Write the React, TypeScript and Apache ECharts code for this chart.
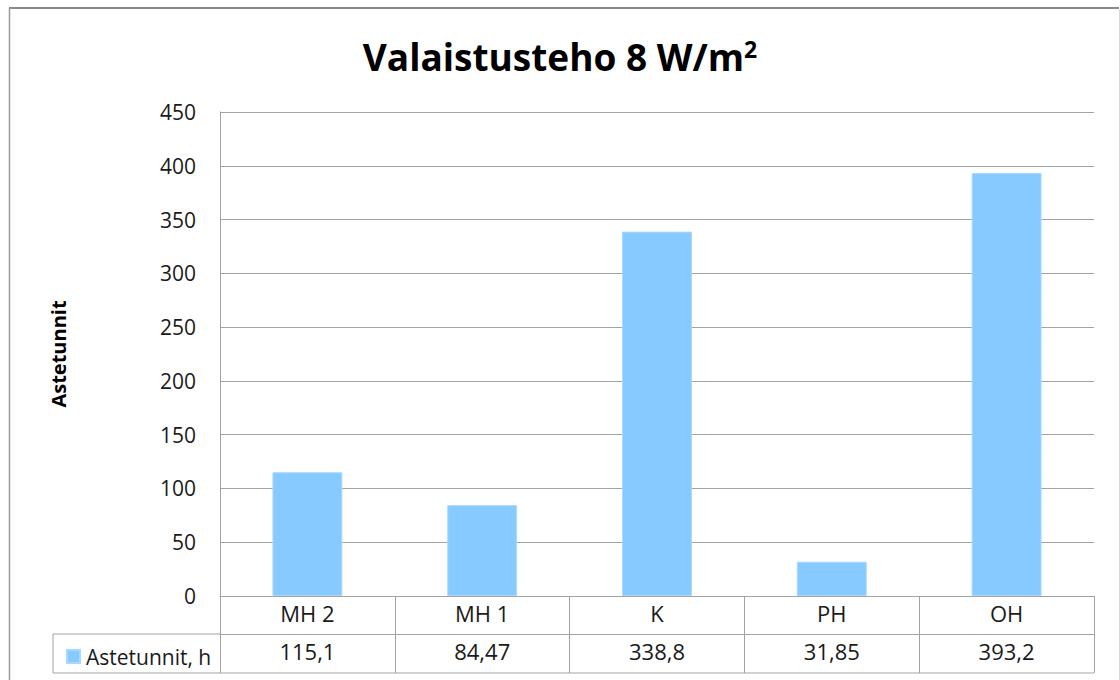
import React, { useEffect, useRef } from "react";
import * as echarts from "echarts";

const categories = ["MH 2", "MH 1", "K", "PH", "OH"];
const seriesName = "Astetunnit, h";
const values = [115.1, 84.47, 338.8, 31.85, 393.2];
const yTicks = [0, 50, 100, 150, 200, 250, 300, 350, 400, 450];

const fmt = (v: number) => String(v).replace(".", ",");
const FONT = "'Open Sans', 'Noto Sans', sans-serif";
const LINE = "#a3a3a3";
const BAR = "#87CAFF";

export default function App() {
  const ref = useRef<HTMLDivElement>(null);
  useEffect(() => {
    if (!ref.current) return;
    const chart = echarts.init(ref.current, undefined, { renderer: "svg" });
    chart.setOption({
      animation: false,
      backgroundColor: "#ffffff",
      title: {
        text: "{t|Valaistusteho 8 W/m}{s|2}",
        left: "center",
        top: 32,
        textStyle: {
          rich: {
            t: { fontFamily: FONT, fontWeight: "bold", fontSize: 37, color: "#000" },
            s: { fontFamily: FONT, fontWeight: "bold", fontSize: 23, color: "#000", verticalAlign: "top", padding: [0, 0, 16, 0] },
          },
        },
      },
      legend: {
        left: 61,
        top: 641,
        itemWidth: 13,
        itemHeight: 13,
        itemGap: 5,
        icon: "rect",
        textStyle: { fontFamily: FONT, fontSize: 21, color: "#1a1a1a", padding: [0, 0, 0, 1] },
        data: [seriesName],
      },
      grid: { left: 220, right: 26, top: 112, bottom: 84, containLabel: false },
      xAxis: [
        {
          type: "category",
          data: categories,
          position: "bottom",
          axisLine: { show: true, lineStyle: { color: LINE, width: 1 } },
          axisTick: { show: true, length: 38, lineStyle: { color: LINE } },
          axisLabel: { fontFamily: FONT, fontSize: 22, color: "#1a1a1a", margin: 6 },
        },
        {
          type: "category",
          data: categories,
          position: "bottom",
          offset: 38,
          axisLine: { show: true, lineStyle: { color: LINE, width: 1 } },
          axisTick: { show: true, length: 39, lineStyle: { color: LINE } },
          axisLabel: {
            fontFamily: FONT,
            fontSize: 22,
            color: "#1a1a1a",
            margin: 6,
            formatter: (_v: string, i: number) => fmt(values[i]),
          },
        },
      ],
      yAxis: {
        type: "value",
        min: 0,
        max: 450,
        interval: 50,
        name: "Astetunnit",
        nameLocation: "middle",
        nameRotate: 90,
        nameGap: 152,
        nameTextStyle: { fontFamily: FONT, fontWeight: "bold", fontSize: 20, color: "#000" },
        axisLine: { show: true, lineStyle: { color: LINE } },
        axisTick: { show: false },
        axisLabel: {
          fontFamily: FONT,
          fontSize: 21,
          color: "#1a1a1a",
          margin: 24,
          formatter: (v: number) => (yTicks.includes(v) ? String(v) : ""),
        },
        splitLine: { show: true, lineStyle: { color: LINE, width: 1 } },
      },
      series: [
        {
          name: seriesName,
          type: "bar",
          xAxisIndex: 0,
          data: values,
          barWidth: "40%",
          itemStyle: { color: BAR, borderColor: "#a9d8ff", borderWidth: 1 },
        },
      ],
      graphic: [
        { type: "line", shape: { x1: 53, y1: 634, x2: 220, y2: 634 }, style: { stroke: LINE, lineWidth: 1 } },
        { type: "line", shape: { x1: 53, y1: 673, x2: 1094, y2: 673 }, style: { stroke: LINE, lineWidth: 1 } },
        { type: "line", shape: { x1: 53, y1: 634, x2: 53, y2: 673 }, style: { stroke: LINE, lineWidth: 1 } },
        { type: "line", shape: { x1: 9, y1: 8, x2: 1119, y2: 8 }, style: { stroke: "#8a8a8a", lineWidth: 2 } },
        { type: "line", shape: { x1: 9.5, y1: 8, x2: 9.5, y2: 680 }, style: { stroke: "#9a9a9a", lineWidth: 1.5 } },
        { type: "line", shape: { x1: 1119.5, y1: 9, x2: 1119.5, y2: 680 }, style: { stroke: "#d8d8d8", lineWidth: 1 } },
      ],
    });
    return () => chart.dispose();
  }, []);
  return (
    <div
      ref={ref}
      style={{ position: "fixed", left: 0, top: 0, width: 1120, height: 680 }}
    />
  );
}
